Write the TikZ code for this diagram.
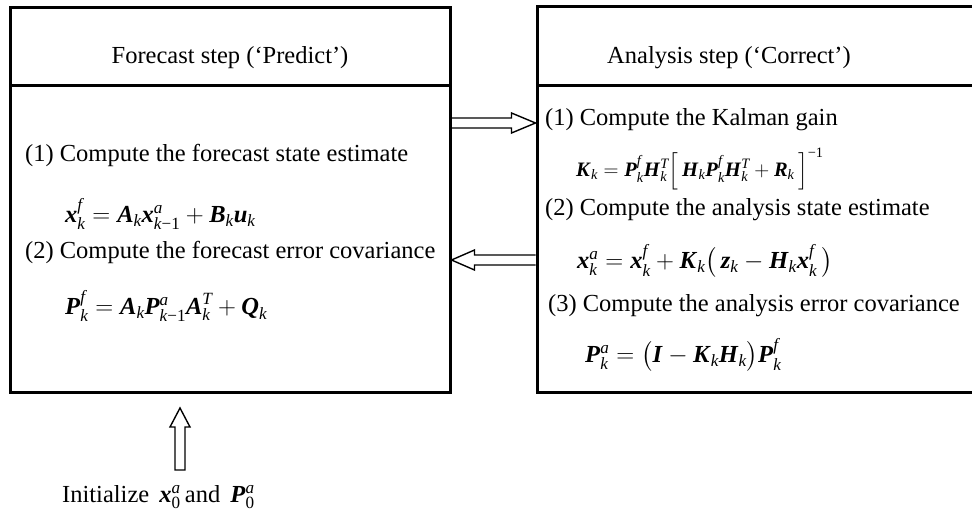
\documentclass[tikz,border=0pt]{standalone}
\usepackage{amsmath}
\usepackage{fontspec}
\setmainfont{Liberation Serif}
\usetikzlibrary{calc}
\newcommand\bi[1]{\textbf{\textit{#1\/}}}
\newcommand\ii[1]{\textit{#1}}
\begin{document}
\begin{tikzpicture}[x=1pt,y=-1pt,
  box/.style={draw, line width=3pt, rectangle, inner sep=0pt},
  txt/.style={inner sep=0pt, font=\fontsize{24.5}{29}\selectfont},
  eqs/.style={inner sep=0pt, font=\fontsize{24.5}{29}\selectfont},
  eqsmall/.style={inner sep=0pt, font=\fontsize{20.5}{24}\selectfont},
  harrow/.style={draw, line width=1.4pt, line join=miter}]
\useasboundingbox (0,0) rectangle (972,520);
% boxes
\node[box, minimum width=440pt, minimum height=78pt] (fh) at (230,46) {};
\node[box, minimum width=440pt, minimum height=307pt] (fb) at (230,238.5) {};
\node[box, minimum width=448pt, minimum height=78.5pt] (ah) at (761,45.75) {};
\node[box, minimum width=448pt, minimum height=307pt] (ab) at (761,238.5) {};
% titles
\node[txt] (ft) at (230,58) {Forecast step (‘Predict’)};
\node[txt] (at) at (729,58) {Analysis step (‘Correct’)};
% forecast content
\node[txt, anchor=west] (f1) at (25,155) {(1) Compute the forecast state estimate};
\node[eqs, anchor=west] (fe1) at (65,214) {$\bi{x}_{\ii{k}}^{\ii{f}} = \bi{A}_{\ii{k}}\bi{x}_{\ii{k}\text{−1}}^{\ii{a}} + \bi{B}_{\ii{k}}\bi{u}_{\ii{k}}$};
\node[txt, anchor=west] (f2) at (25,252) {(2) Compute the forecast error covariance};
\node[eqs, anchor=west] (fe2) at (65,306) {$\bi{P}_{\ii{k}}^{\ii{f}} = \bi{A}_{\ii{k}}\bi{P}_{\ii{k}\text{−1}}^{\ii{a}}\bi{A}_{\ii{k}}^{\ii{T}} + \bi{Q}_{\ii{k}}$};
% analysis content
\node[txt, anchor=west] (a1) at (545,120) {(1) Compute the Kalman gain};
\node[eqsmall, anchor=west] (ae1) at (576,169) {$\bi{K}_{\ii{k}} = \bi{P}_{\ii{k}}^{\ii{f}}\bi{H}_{\ii{k}}^{\ii{T}}\Big[\,\bi{H}_{\ii{k}}\bi{P}_{\ii{k}}^{\ii{f}}\bi{H}_{\ii{k}}^{\ii{T}} + \bi{R}_{\ii{k}}\,\Big]^{\text{−1}}$};
\node[txt, anchor=west] (a2) at (545,210) {(2) Compute the analysis state estimate};
\node[eqs, anchor=west] (ae2) at (577,261) {$\bi{x}_{\ii{k}}^{\ii{a}} = \bi{x}_{\ii{k}}^{\ii{f}} + \bi{K}_{\ii{k}}\big(\,\bi{z}_{\ii{k}} - \bi{H}_{\ii{k}}\bi{x}_{\ii{k}}^{\ii{f}}\,\big)$};
\node[txt, anchor=west] (a3) at (548,306) {(3) Compute the analysis error covariance};
\node[eqs, anchor=west] (ae3) at (585,355) {$\bi{P}_{\ii{k}}^{\ii{a}} = \big(\bi{I} - \bi{K}_{\ii{k}}\bi{H}_{\ii{k}}\big)\bi{P}_{\ii{k}}^{\ii{f}}$};
% init
\node[txt, anchor=west] (init) at (62,497) {Initialize \,$\bi{x}_{\text{0}}^{\ii{a}}$\,and \,$\bi{P}_{\text{0}}^{\ii{a}}$};
% arrow coordinates
\coordinate (r1) at (fb.east |- 0,123);
\coordinate (r2) at (ab.west |- 0,123);
\coordinate (l1) at (ab.west |- 0,260);
\coordinate (l2) at (fb.east |- 0,260);
\coordinate (u1) at (180,470);
\coordinate (u2) at (180,408);
% forecast -> analysis
\draw[harrow] ([yshift=5pt]r1) -- ([xshift=-24pt,yshift=5pt]r2) -- ([xshift=-24pt,yshift=10pt]r2) -- (r2)
  -- ([xshift=-24pt,yshift=-10pt]r2) -- ([xshift=-24pt,yshift=-5pt]r2) -- ([yshift=-5pt]r1);
% analysis -> forecast
\draw[harrow] ([yshift=5pt]l1) -- ([xshift=23pt,yshift=5pt]l2) -- ([xshift=23pt,yshift=10pt]l2) -- (l2)
  -- ([xshift=23pt,yshift=-10pt]l2) -- ([xshift=23pt,yshift=-5pt]l2) -- ([yshift=-5pt]l1);
% init arrow
\draw[harrow] ([xshift=-5pt]u1) -- ([xshift=-5pt,yshift=-19pt]u2) -- ([xshift=-10pt,yshift=-19pt]u2) -- (u2)
  -- ([xshift=10pt,yshift=-19pt]u2) -- ([xshift=5pt,yshift=-19pt]u2) -- ([xshift=5pt]u1) -- cycle;
\end{tikzpicture}
\end{document}
